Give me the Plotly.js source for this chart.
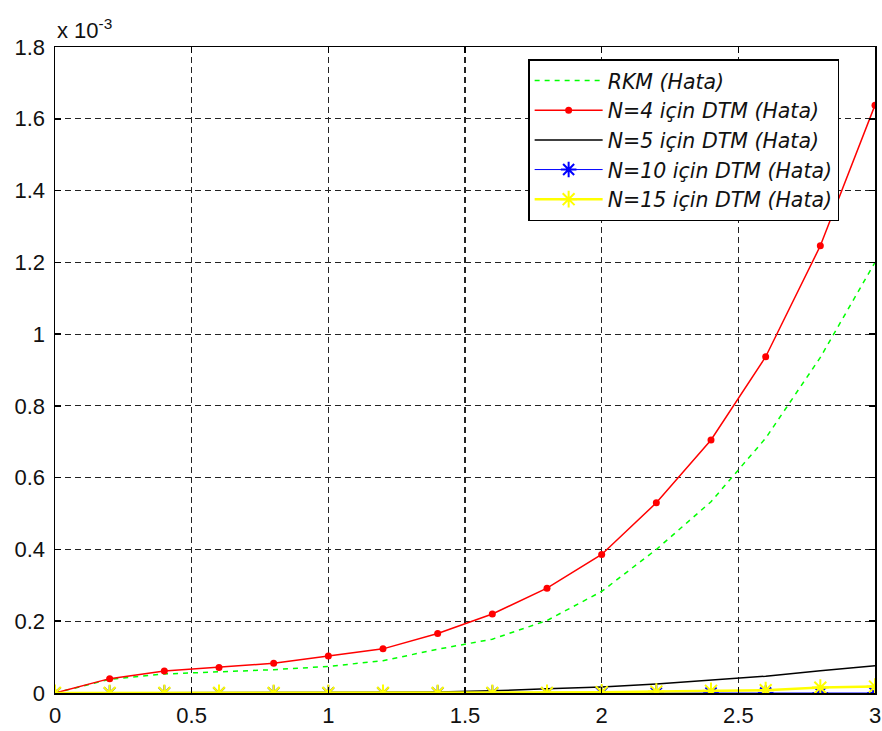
<!DOCTYPE html>
<html>
<head>
<meta charset="utf-8">
<script src="https://cdn.plot.ly/plotly-3.0.1.min.js"></script>
<style>html,body{margin:0;padding:0;background:#fff;}#chart{width:882px;height:731px;}</style>
</head>
<body>
<div id="chart"></div>
<script>
// x values (t)
const xVals = [0, 0.2, 0.4, 0.6, 0.8, 1.0, 1.2, 1.4, 1.6, 1.8, 2.0, 2.2, 2.4, 2.6, 2.8, 3.0];
// errors in units of 1e-3
const rkm   = [0, 0.038, 0.053, 0.059, 0.065, 0.074, 0.090, 0.122, 0.150, 0.202, 0.283, 0.400, 0.533, 0.710, 0.935, 1.200];
const dtmN4 = [0, 0.040, 0.061, 0.071, 0.083, 0.103, 0.123, 0.166, 0.220, 0.292, 0.386, 0.530, 0.705, 0.937, 1.246, 1.638];
const dtmN5 = [0, 0, 0, 0, 0, 0.001, 0.002, 0.003, 0.006, 0.012, 0.017, 0.025, 0.036, 0.047, 0.062, 0.076];
const dtmN10 = [0, 0, 0, 0, 0, 0, 0, 0, 0, 0, 0, 0, 0, 0, 0, 0];
const dtmN15 = [0, 0, 0, 0, 0, 0, 0, 0, 0, 0, 0.002, 0.004, 0.006, 0.008, 0.015, 0.018];
const names = ["RKM (Hata)", "N=4 için DTM (Hata)", "N=5 için DTM (Hata)", "N=10 için DTM (Hata)", "N=15 için DTM (Hata)"];
const xTicks = [0, 0.5, 1, 1.5, 2, 2.5, 3];
const yTicks = [0, 0.2, 0.4, 0.6, 0.8, 1, 1.2, 1.4, 1.6, 1.8];

const traces = [
  {x: xVals, y: rkm, name: names[0], mode: "lines", line: {color: "#00ff00", width: 1.5, dash: "5px,5px"}},
  {x: xVals, y: dtmN4, name: names[1], mode: "lines+markers", line: {color: "#ff0000", width: 1.5},
   marker: {symbol: "circle", size: 7, color: "#ff0000"}},
  {x: xVals, y: dtmN5, name: names[2], mode: "lines", line: {color: "#000000", width: 1.5}},
  {x: xVals, y: dtmN10, name: names[3], mode: "lines+markers", line: {color: "#0000ff", width: 1},
   marker: {symbol: "asterisk-open", size: 13, color: "#0000ff", line: {color: "#0000ff", width: 2}}},
  {x: xVals, y: dtmN15, name: names[4], mode: "lines+markers", line: {color: "#ffff00", width: 2.5},
   marker: {symbol: "asterisk-open", size: 14, color: "#ffff00", line: {color: "#ffff00", width: 2}}}
];

const axisCommon = {
  showline: true, linecolor: "#000", linewidth: 1.5, mirror: "ticks",
  ticks: "inside", ticklen: 6, tickcolor: "#000", tickwidth: 1.5,
  showgrid: true, gridcolor: "#222", gridwidth: 1.2, griddash: "6px,4px",
  zeroline: false,
  tickfont: {family: "Liberation Sans, Arial, sans-serif", size: 22, color: "#111"}
};

const layout = {
  width: 882, height: 731,
  margin: {l: 55, r: 7, t: 47, b: 38},
  paper_bgcolor: "#fff", plot_bgcolor: "#fff",
  showlegend: true,
  xaxis: Object.assign({}, axisCommon, {range: [0, 3], tickvals: xTicks, ticklabelstandoff: 2}),
  yaxis: Object.assign({}, axisCommon, {range: [0, 1.8], tickvals: yTicks, ticklabelstandoff: 4}),
  legend: {
    x: 0.577, y: 0.981, xanchor: "left", yanchor: "top",
    bgcolor: "#fff", bordercolor: "#000", borderwidth: 1.5,
    font: {family: "DejaVu Sans, sans-serif", size: 20.5, color: "#111", style: "italic"},
    itemwidth: 68, tracegroupgap: 0
  },
  annotations: [{
    xref: "paper", yref: "paper", x: 0, y: 1, xanchor: "left", yanchor: "bottom",
    text: "x 10<sup>-3</sup>", showarrow: false, yshift: 2,
    font: {family: "Liberation Sans, Arial, sans-serif", size: 22, color: "#111"}
  }]
};

Plotly.newPlot("chart", traces, layout, {displayModeBar: false, staticPlot: true});
</script>
</body>
</html>
